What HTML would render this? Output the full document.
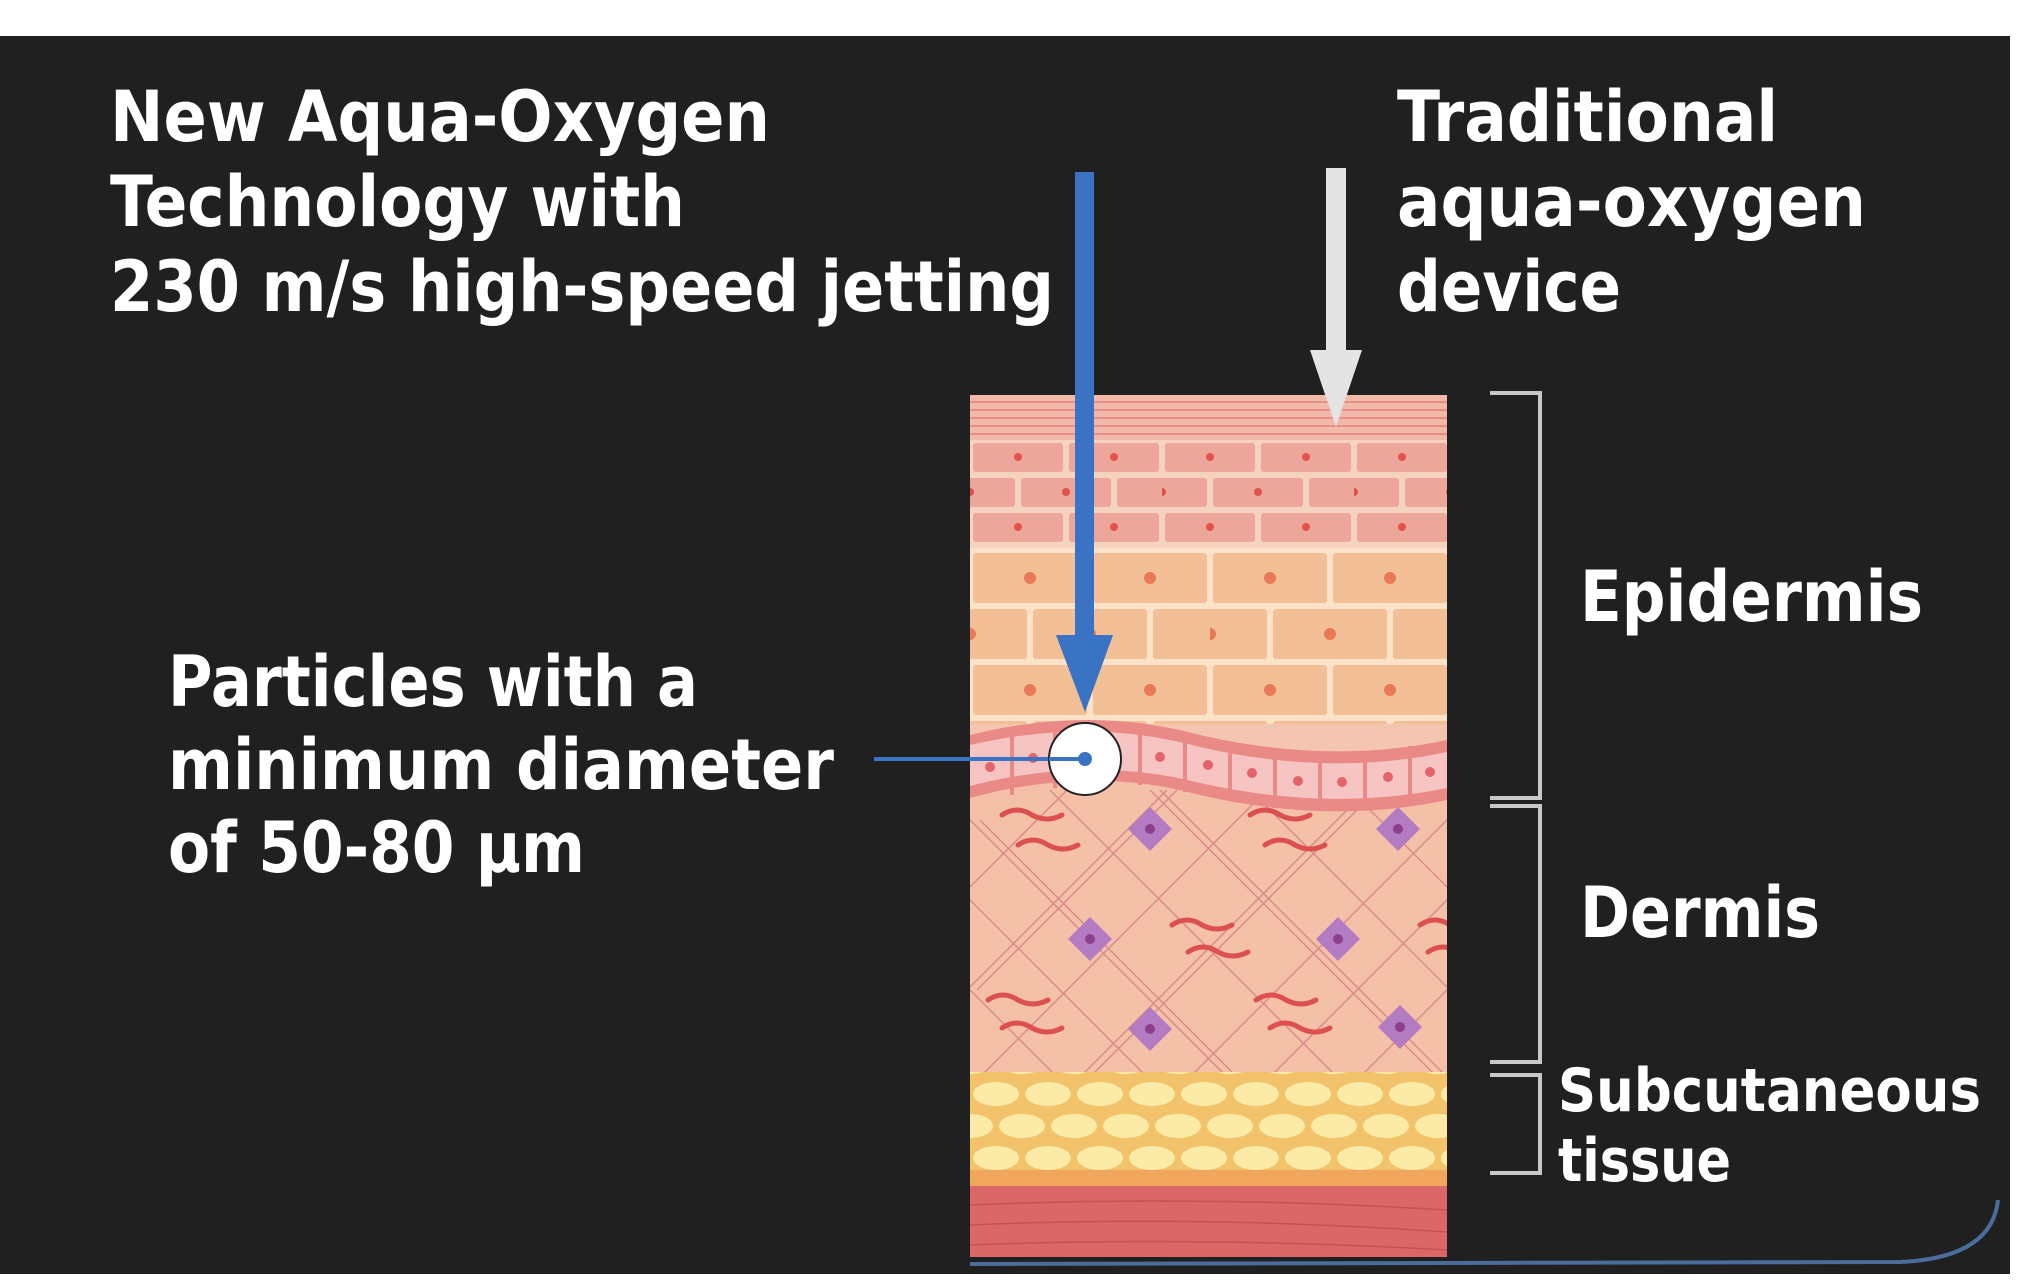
<!DOCTYPE html>
<html><head><meta charset="utf-8"><style>
html,body{margin:0;padding:0;background:#fff;width:2028px;height:1280px;overflow:hidden}
svg{display:block}
text{font-family:"DejaVu Sans","Liberation Sans",sans-serif;font-weight:bold;fill:#fff}
</style></head><body>
<svg width="2028" height="1280" viewBox="0 0 2028 1280" xmlns="http://www.w3.org/2000/svg">
<defs>
<pattern id="pb" x="970" y="440" width="192" height="70" patternUnits="userSpaceOnUse">
<rect width="192" height="70" fill="#f6d2c0"/>
<rect x="3" y="3" width="90" height="29" rx="3" fill="#eda79a"/>
<rect x="99" y="3" width="90" height="29" rx="3" fill="#eda79a"/>
<rect x="-45" y="38" width="90" height="29" rx="3" fill="#eda79a"/>
<rect x="51" y="38" width="90" height="29" rx="3" fill="#eda79a"/>
<rect x="147" y="38" width="90" height="29" rx="3" fill="#eda79a"/>
<circle cx="48" cy="17" r="4" fill="#e0524a"/><circle cx="144" cy="17" r="4" fill="#e0524a"/>
<circle cx="96" cy="52" r="4" fill="#e0524a"/><circle cx="0" cy="52" r="4" fill="#e0524a"/>
</pattern>
<pattern id="po" x="970" y="550" width="240" height="112" patternUnits="userSpaceOnUse">
<rect width="240" height="112" fill="#fbe2c8"/>
<rect x="3" y="3" width="114" height="50" rx="3" fill="#f3bf97"/>
<rect x="123" y="3" width="114" height="50" rx="3" fill="#f3bf97"/>
<rect x="-57" y="59" width="114" height="50" rx="3" fill="#f3bf97"/>
<rect x="63" y="59" width="114" height="50" rx="3" fill="#f3bf97"/>
<rect x="183" y="59" width="114" height="50" rx="3" fill="#f3bf97"/>
<circle cx="60" cy="28" r="6" fill="#ea7a55"/><circle cx="180" cy="28" r="6" fill="#ea7a55"/>
<circle cx="120" cy="84" r="6" fill="#ea7a55"/><circle cx="0" cy="84" r="6" fill="#ea7a55"/>
</pattern>
<pattern id="pf" x="970" y="1080" width="104" height="64" patternUnits="userSpaceOnUse">
<rect width="104" height="64" fill="#f2c36a"/>
<ellipse cx="26" cy="14" rx="23" ry="12" fill="#fbeba6"/>
<ellipse cx="78" cy="14" rx="23" ry="12" fill="#fbeba6"/>
<ellipse cx="0" cy="46" rx="23" ry="12" fill="#fbeba6"/>
<ellipse cx="52" cy="46" rx="23" ry="12" fill="#fbeba6"/>
<ellipse cx="104" cy="46" rx="23" ry="12" fill="#fbeba6"/>
</pattern>
<clipPath id="sk"><rect x="970" y="395" width="477" height="862"/></clipPath>
</defs>
<rect x="0" y="36" width="2010" height="1238" fill="#202020"/>
<path d="M1998 1200 Q1992 1258 1900 1262 L970 1264" stroke="#4a6d9c" stroke-width="4" fill="none"/>

<g clip-path="url(#sk)">
<rect x="970" y="395" width="477" height="862" fill="#f4c6b2"/>
<rect x="970" y="395" width="477" height="45" fill="#f3b9a8"/>
<g stroke="#e58f86" stroke-width="2"><line x1="970" y1="402" x2="1447" y2="402"/><line x1="970" y1="410" x2="1447" y2="410"/><line x1="970" y1="418" x2="1447" y2="418"/><line x1="970" y1="426" x2="1447" y2="426"/><line x1="970" y1="434" x2="1447" y2="434"/></g>
<rect x="970" y="440" width="477" height="108" fill="url(#pb)"/>
<rect x="970" y="548" width="477" height="176" fill="url(#po)"/>
<rect x="970" y="780" width="477" height="300" fill="#f4c0a8"/>
<g stroke="#d98a8a" stroke-width="1.5" fill="none">
<path d="M970 820 L1230 1080 M970 900 L1150 1080 M970 990 L1060 1080 M1050 790 L1340 1080 M1150 790 L1447 1087 M1250 790 L1447 987 M1350 790 L1447 887"/>
<path d="M1447 820 L1187 1080 M1447 900 L1267 1080 M1447 990 L1357 1080 M1367 790 L1077 1080 M1267 790 L970 1087 M1167 790 L970 987 M1067 790 L970 887"/>
<path d="M980 820 L1240 1080 M1160 790 L1450 1080 M1377 790 L1087 1080 M1177 790 L977 990"/>
</g>
<g fill="#b27bc2">
<path d="M1150 807 l22 22 -22 22 -22 -22z"/><path d="M1398 807 l22 22 -22 22 -22 -22z"/>
<path d="M1090 917 l22 22 -22 22 -22 -22z"/><path d="M1338 917 l22 22 -22 22 -22 -22z"/>
<path d="M1150 1007 l22 22 -22 22 -22 -22z"/><path d="M1400 1005 l22 22 -22 22 -22 -22z"/>
</g>
<g fill="#8e3f8c"><circle cx="1150" cy="829" r="5"/><circle cx="1398" cy="829" r="5"/><circle cx="1090" cy="939" r="5"/><circle cx="1338" cy="939" r="5"/><circle cx="1150" cy="1029" r="5"/><circle cx="1400" cy="1027" r="5"/></g>
<g stroke="#dc5050" stroke-width="5" fill="none" stroke-linecap="round">
<path d="M1002 815 q15 -10 30 0 q15 8 30 0"/><path d="M1018 845 q15 -10 30 0 q15 8 30 0"/>
<path d="M1250 815 q15 -10 30 0 q15 8 30 0"/><path d="M1265 845 q15 -10 30 0 q15 8 30 0"/>
<path d="M1172 925 q15 -10 30 0 q15 8 30 0"/><path d="M1188 952 q15 -10 30 0 q15 8 30 0"/>
<path d="M988 1000 q15 -10 30 0 q15 8 30 0"/><path d="M1002 1028 q15 -10 30 0 q15 8 30 0"/>
<path d="M1256 1000 q15 -10 30 0 q15 8 30 0"/><path d="M1270 1028 q15 -10 30 0 q15 8 30 0"/>
<path d="M1420 925 q15 -10 30 0"/><path d="M1428 952 q15 -10 30 0"/>
</g>
<path d="M970 735 Q1090 705 1200 735 Q1330 765 1447 740 L1447 800 Q1330 825 1200 795 Q1090 765 970 798 Z" fill="#e98a86"/>
<path d="M970 745 Q1090 717 1200 747 Q1330 777 1447 752 L1447 788 Q1330 812 1200 783 Q1090 755 970 786 Z" fill="#f6c4c2"/>
<g stroke="#e98a86" stroke-width="4"><line x1="1012" y1="735" x2="1012" y2="795"/><line x1="1055" y1="728" x2="1055" y2="788"/><line x1="1140" y1="728" x2="1140" y2="785"/><line x1="1185" y1="735" x2="1185" y2="792"/><line x1="1230" y1="743" x2="1230" y2="800"/><line x1="1275" y1="752" x2="1275" y2="808"/><line x1="1320" y1="755" x2="1320" y2="810"/><line x1="1365" y1="752" x2="1365" y2="806"/><line x1="1410" y1="746" x2="1410" y2="800"/></g>
<g fill="#e5646a"><circle cx="990" cy="767" r="5"/><circle cx="1033" cy="758" r="5"/><circle cx="1160" cy="757" r="5"/><circle cx="1208" cy="765" r="5"/><circle cx="1252" cy="773" r="5"/><circle cx="1298" cy="781" r="5"/><circle cx="1342" cy="782" r="5"/><circle cx="1388" cy="777" r="5"/><circle cx="1430" cy="772" r="5"/></g>
<rect x="970" y="1072" width="477" height="108" fill="url(#pf)"/>
<rect x="970" y="1170" width="477" height="16" fill="#f0a65c"/>
<rect x="970" y="1186" width="477" height="71" fill="#db6868"/>
<g stroke="#c95050" stroke-width="1.5" fill="none"><path d="M970 1205 Q1200 1195 1447 1210 M970 1225 Q1200 1215 1447 1232 M970 1245 Q1200 1236 1447 1250"/></g>
</g>

<rect x="1075" y="172" width="19" height="465" fill="#3a73c4"/>
<path d="M1056 635 L1113 635 L1085 712 Z" fill="#3a73c4"/>
<rect x="1326" y="168" width="20" height="184" fill="#e4e4e4"/>
<path d="M1310 350 L1362 350 L1336 427 Z" fill="#e4e4e4"/>
<line x1="874" y1="759" x2="1085" y2="759" stroke="#3a73c4" stroke-width="4"/>
<circle cx="1085" cy="759" r="36" fill="#fff" stroke="#222" stroke-width="2"/>
<line x1="1049" y1="759" x2="1085" y2="759" stroke="#3a73c4" stroke-width="4"/>
<circle cx="1085" cy="759" r="7" fill="#3a73c4"/>

<g stroke="#c8c8c8" stroke-width="4" fill="none">
<path d="M1490 393 L1540 393 L1540 798 L1490 798"/>
<path d="M1490 806 L1540 806 L1540 1062 L1490 1062"/>
<path d="M1490 1075 L1540 1075 L1540 1173 L1490 1173"/>
</g>

<text x="110" y="141" font-size="70" textLength="660" lengthAdjust="spacingAndGlyphs">New Aqua-Oxygen</text>
<text x="110" y="226" font-size="70" textLength="575" lengthAdjust="spacingAndGlyphs">Technology with</text>
<text x="110" y="311" font-size="70" textLength="944" lengthAdjust="spacingAndGlyphs">230 m/s high-speed jetting</text>
<text x="1397" y="141" font-size="70" textLength="381" lengthAdjust="spacingAndGlyphs">Traditional</text>
<text x="1397" y="226" font-size="70" textLength="469" lengthAdjust="spacingAndGlyphs">aqua-oxygen</text>
<text x="1397" y="311" font-size="70" textLength="224" lengthAdjust="spacingAndGlyphs">device</text>
<text x="168" y="706" font-size="70" textLength="530" lengthAdjust="spacingAndGlyphs">Particles with a</text>
<text x="168" y="789" font-size="70" textLength="666" lengthAdjust="spacingAndGlyphs">minimum diameter</text>
<text x="168" y="872" font-size="70" textLength="417" lengthAdjust="spacingAndGlyphs">of 50-80 µm</text>
<text x="1580" y="621" font-size="70" textLength="343" lengthAdjust="spacingAndGlyphs">Epidermis</text>
<text x="1580" y="937" font-size="70" textLength="240" lengthAdjust="spacingAndGlyphs">Dermis</text>
<text x="1558" y="1111" font-size="60" textLength="423" lengthAdjust="spacingAndGlyphs">Subcutaneous</text>
<text x="1558" y="1181" font-size="60" textLength="173" lengthAdjust="spacingAndGlyphs">tissue</text>
</svg>
</body></html>
